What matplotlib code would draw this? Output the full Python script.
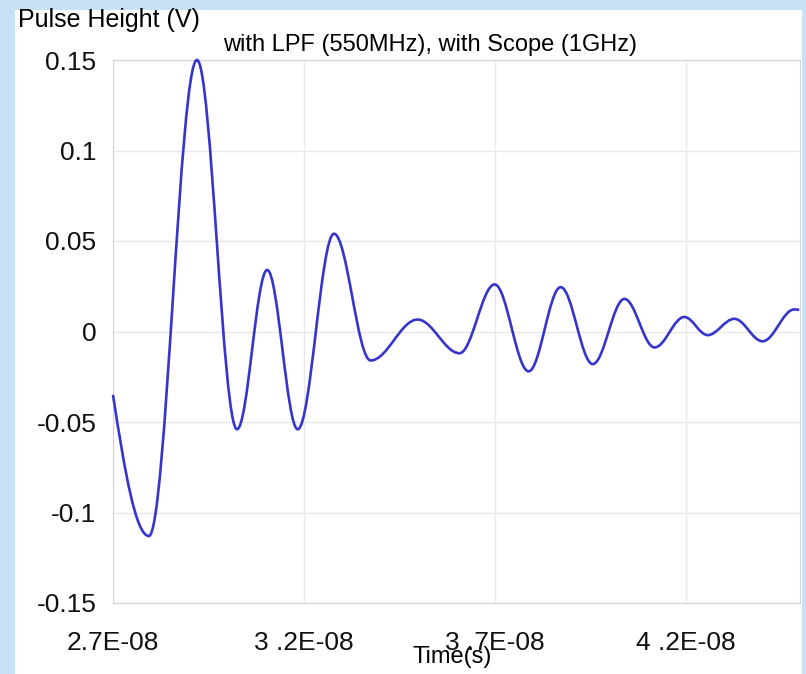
import matplotlib.pyplot as plt
from matplotlib.path import Path
from matplotlib.patches import PathPatch, Rectangle

# turning points of the trace (time in ns, volts)
t_ns = [27.0, 27.94, 29.20, 30.25, 31.04, 31.84, 32.79, 33.75, 34.98, 36.08,
        37.00, 37.89, 38.73, 39.57, 40.40, 41.19, 41.97, 42.58, 43.28, 44.02,
        44.85, 44.98]
volts = [-0.035, -0.113, 0.150, -0.054, 0.034, -0.054, 0.054, -0.016, 0.0066, -0.012,
         0.026, -0.022, 0.0245, -0.018, 0.018, -0.0088, 0.008, -0.002, 0.007, -0.0054,
         0.0122, 0.012]

yticks = [0.15, 0.1, 0.05, 0, -0.05, -0.1, -0.15]
ytick_labels = ["0.15", "0.1", "0.05", "0", "-0.05", "-0.1", "-0.15"]
xticks_ns = [27, 32, 37, 42]
xtick_labels = ["2.7E-08", "3 .2E-08", "3 .7E-08", "4 .2E-08"]

plt.rcParams['font.family'] = ['Liberation Sans Narrow', 'DejaVu Sans Condensed',
                               'Liberation Sans', 'DejaVu Sans']

fig = plt.figure(figsize=(8.06, 6.74), dpi=100, facecolor='#c7e2f6')
fig.patches.append(Rectangle((15 / 806, 0), 787 / 806, 1 - 10 / 674,
                             transform=fig.transFigure, facecolor='white',
                             edgecolor='none', zorder=-5))
ax = fig.add_axes([113 / 806, 1 - 603 / 674, 687 / 806, 543 / 674])

# smooth trace: cubic segments between turning points, flat at the peaks
t = [v * 1e-9 for v in t_ns]
verts = [(t[0], volts[0])]
codes = [Path.MOVETO]
for i in range(len(t) - 1):
    dt = t[i + 1] - t[i]
    if i == 0:
        c1 = (t[0] + dt * 0.33, volts[0] + (volts[1] - volts[0]) * 0.55)
    else:
        c1 = (t[i] + dt * 0.36, volts[i])
    c2 = (t[i + 1] - dt * 0.36, volts[i + 1])
    verts += [c1, c2, (t[i + 1], volts[i + 1])]
    codes += [Path.CURVE4, Path.CURVE4, Path.CURVE4]
ax.add_patch(PathPatch(Path(verts, codes), fill=False, edgecolor='#3535cc',
                       linewidth=1.9, zorder=3, clip_on=False))

ax.set_xlim(27e-9, 45e-9)
ax.set_ylim(-0.15, 0.15)
ax.set_yticks(yticks)
ax.set_yticklabels(ytick_labels)
ax.set_xticks([v * 1e-9 for v in xticks_ns])
ax.set_xticklabels(xtick_labels)
ax.tick_params(axis='both', length=0, labelsize=19, colors='#111111')
ax.tick_params(axis='y', pad=12)
ax.tick_params(axis='x', pad=20)
ax.grid(True, color='#e8e8e8', linewidth=1)
ax.set_axisbelow(True)
for s in ax.spines.values():
    s.set_color('#d5d5d5')

fig.text(18 / 806, 1 - 20 / 674, "Pulse Height (V)", fontsize=18, va='center', ha='left')
fig.text(430 / 806, 1 - 45 / 674, "with LPF (550MHz), with Scope (1GHz)", fontsize=17,
         va='center', ha='center')
fig.text(452 / 806, 1 - 657 / 674, "Time(s)", fontsize=17, va='center', ha='center')

fig.savefig("out.png", dpi=100, facecolor=fig.get_facecolor())
